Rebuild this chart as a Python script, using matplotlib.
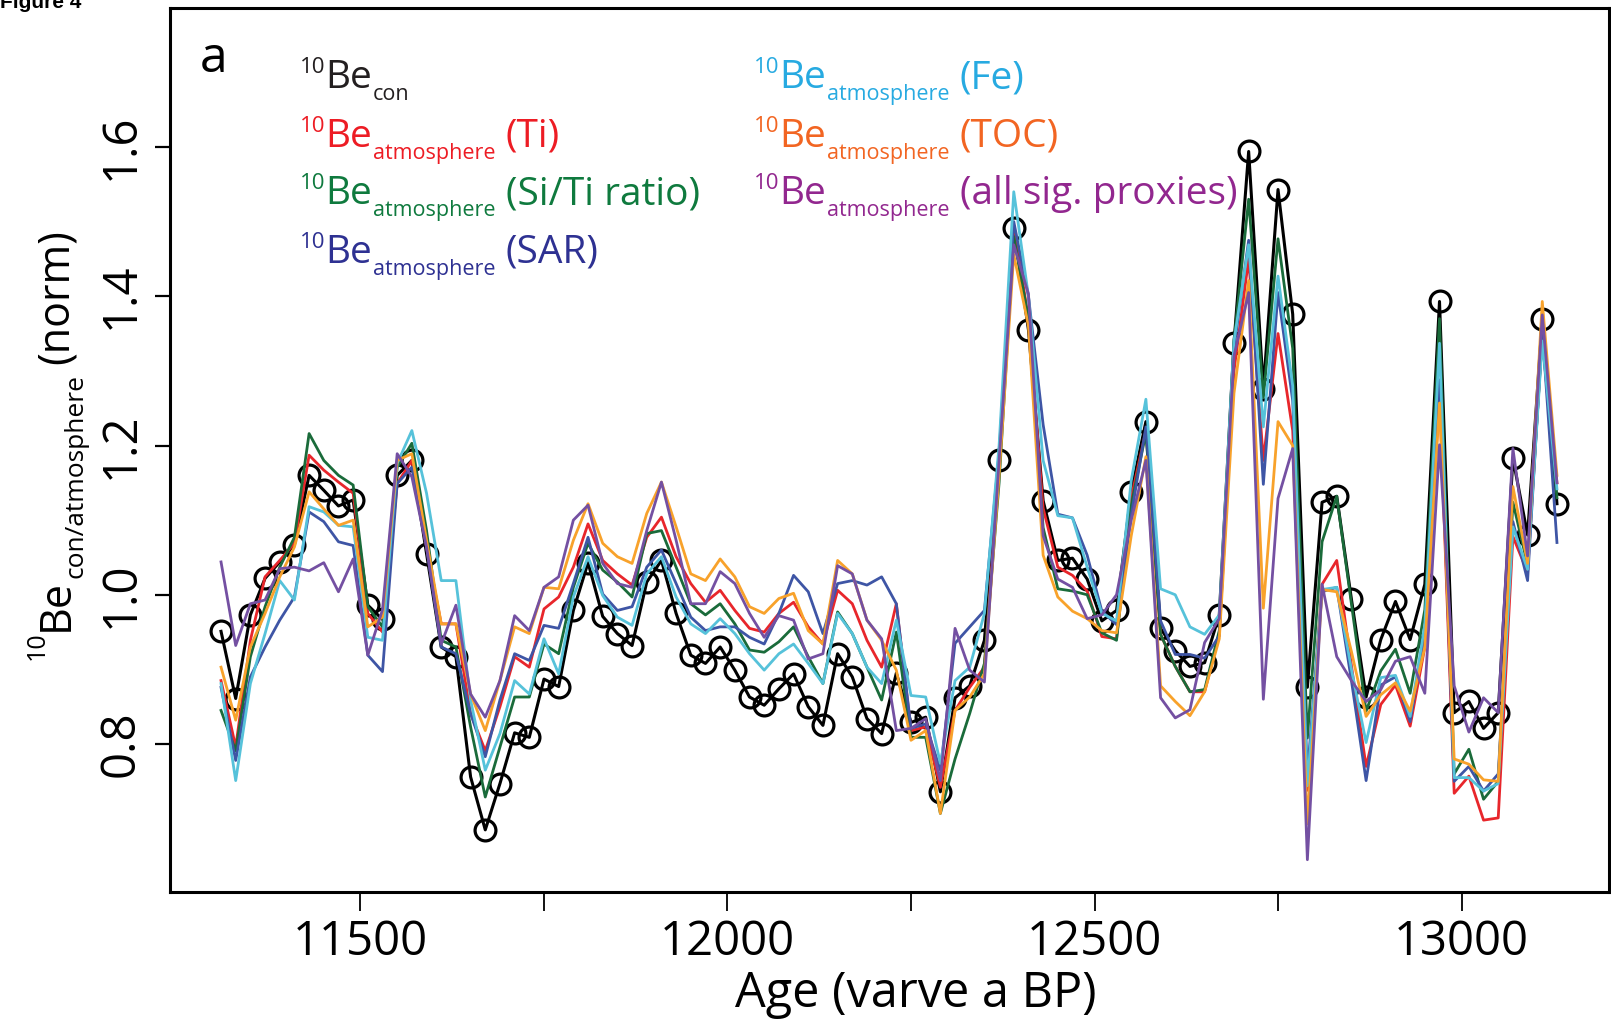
#!/usr/bin/env python3
"""10Be con / atmosphere comparison (Figure 4a)."""

import numpy as np
import matplotlib
matplotlib.use("Agg")
import matplotlib.pyplot as plt

# varve ages, 20-yr sampling
age = np.arange(11310, 13131, 20)

be_con = [0.951, 0.861, 0.973, 1.022, 1.044, 1.067, 1.160, 1.140, 1.119, 1.127,
          0.986, 0.967, 1.160, 1.180, 1.055, 0.930, 0.917, 0.756, 0.685, 0.747,
          0.815, 0.809, 0.887, 0.877, 0.979, 1.043, 0.971, 0.948, 0.932, 1.017,
          1.046, 0.975, 0.919, 0.908, 0.930, 0.899, 0.863, 0.852, 0.874, 0.894,
          0.850, 0.825, 0.921, 0.890, 0.834, 0.814, 0.895, 0.829, 0.836, 0.736,
          0.862, 0.878, 0.939, 1.181, 1.492, 1.355, 1.126, 1.046, 1.049, 1.021,
          0.965, 0.979, 1.138, 1.232, 0.955, 0.925, 0.904, 0.909, 0.973, 1.337,
          1.594, 1.276, 1.543, 1.376, 0.876, 1.124, 1.132, 0.994, 0.863, 0.940,
          0.991, 0.940, 1.014, 1.393, 0.842, 0.857, 0.821, 0.842, 1.183, 1.080,
          1.370, 1.122]

be_ti = [0.885, 0.796, 0.939, 1.024, 1.046, 1.069, 1.187, 1.167, 1.151, 1.136,
         0.975, 0.950, 1.149, 1.180, 1.064, 0.961, 0.961, 0.841, 0.791, 0.850,
         0.917, 0.903, 0.981, 0.997, 1.037, 1.095, 1.046, 1.028, 1.013, 1.077,
         1.104, 1.051, 1.015, 0.990, 1.006, 0.979, 0.955, 0.950, 0.975, 0.990,
         0.957, 0.934, 1.006, 0.988, 0.939, 0.903, 0.988, 0.818, 0.823, 0.742,
         0.845, 0.876, 0.903, 1.170, 1.495, 1.370, 1.116, 1.037, 1.026, 1.005,
         0.944, 0.941, 1.130, 1.220, 0.947, 0.904, 0.870, 0.870, 0.947, 1.300,
         1.450, 1.180, 1.350, 1.220, 0.738, 1.014, 1.046, 0.905, 0.770, 0.853,
         0.879, 0.824, 0.930, 1.270, 0.734, 0.757, 0.698, 0.701, 1.078, 1.030,
         1.350, 1.150]

be_siti = [0.845, 0.791, 0.917, 0.984, 1.037, 1.077, 1.216, 1.180, 1.160, 1.147,
           0.984, 0.957, 1.171, 1.203, 1.086, 0.939, 0.930, 0.823, 0.729, 0.796,
           0.863, 0.863, 0.934, 0.921, 1.010, 1.069, 1.033, 1.017, 0.997, 1.082,
           1.086, 1.037, 0.988, 0.973, 0.988, 0.961, 0.926, 0.923, 0.937, 0.957,
           0.917, 0.881, 0.977, 0.948, 0.903, 0.859, 0.950, 0.809, 0.809, 0.707,
           0.780, 0.841, 0.908, 1.150, 1.480, 1.370, 1.090, 1.008, 1.005, 1.000,
           0.949, 0.939, 1.120, 1.217, 0.947, 0.904, 0.870, 0.873, 0.952, 1.340,
           1.530, 1.264, 1.477, 1.330, 0.808, 1.071, 1.132, 0.988, 0.844, 0.898,
           0.927, 0.868, 0.980, 1.370, 0.760, 0.793, 0.726, 0.750, 1.124, 1.040,
           1.345, 1.130]

be_sar = [0.876, 0.778, 0.890, 0.930, 0.966, 0.997, 1.111, 1.098, 1.071, 1.066,
          0.919, 0.897, 1.149, 1.171, 1.064, 0.930, 0.921, 0.841, 0.783, 0.859,
          0.921, 0.912, 0.959, 0.955, 1.015, 1.077, 1.001, 0.979, 0.984, 1.037,
          1.060, 1.015, 0.970, 0.952, 0.957, 0.957, 0.943, 0.934, 0.975, 1.026,
          1.004, 0.948, 1.015, 1.019, 1.013, 1.024, 0.988, 0.821, 0.827, 0.765,
          0.935, 0.957, 0.979, 1.190, 1.500, 1.400, 1.228, 1.108, 1.103, 1.053,
          0.978, 0.960, 1.106, 1.225, 0.965, 0.920, 0.920, 0.915, 0.945, 1.330,
          1.475, 1.148, 1.405, 1.260, 0.760, 1.004, 1.010, 0.885, 0.751, 0.879,
          0.890, 0.830, 0.950, 1.288, 0.750, 0.770, 0.737, 0.760, 1.098, 1.019,
          1.355, 1.070]

be_fe = [0.881, 0.751, 0.881, 0.948, 1.019, 0.993, 1.118, 1.111, 1.093, 1.091,
         0.943, 0.939, 1.176, 1.220, 1.136, 1.019, 1.019, 0.859, 0.765, 0.814,
         0.885, 0.867, 0.941, 0.894, 0.997, 1.051, 0.999, 0.970, 0.959, 1.028,
         1.051, 0.997, 0.961, 0.948, 0.968, 0.948, 0.921, 0.899, 0.921, 0.934,
         0.908, 0.881, 0.975, 0.948, 0.903, 0.881, 0.966, 0.865, 0.863, 0.774,
         0.885, 0.903, 0.975, 1.200, 1.540, 1.400, 1.180, 1.106, 1.103, 1.037,
         0.975, 0.965, 1.153, 1.262, 1.008, 1.000, 0.957, 0.947, 0.973, 1.340,
         1.469, 1.225, 1.427, 1.280, 0.744, 1.007, 1.010, 0.900, 0.802, 0.889,
         0.892, 0.837, 0.960, 1.337, 0.755, 0.755, 0.737, 0.747, 1.091, 1.034,
         1.340, 1.142]

be_toc = [0.903, 0.832, 0.930, 0.975, 1.024, 1.064, 1.138, 1.115, 1.093, 1.100,
          0.957, 0.970, 1.180, 1.189, 1.073, 0.961, 0.961, 0.867, 0.818, 0.885,
          0.957, 0.948, 1.010, 1.008, 1.073, 1.122, 1.069, 1.051, 1.042, 1.109,
          1.151, 1.091, 1.028, 1.019, 1.048, 1.024, 0.984, 0.975, 0.995, 1.002,
          0.952, 0.934, 1.046, 1.028, 0.966, 0.939, 0.899, 0.805, 0.818, 0.707,
          0.845, 0.863, 0.894, 1.160, 1.456, 1.360, 1.053, 0.997, 0.978, 0.968,
          0.952, 0.949, 1.079, 1.185, 0.878, 0.857, 0.838, 0.870, 0.941, 1.270,
          1.421, 0.982, 1.232, 1.200, 0.693, 1.007, 1.004, 0.924, 0.837, 0.866,
          0.882, 0.844, 0.930, 1.257, 0.780, 0.773, 0.752, 0.750, 1.145, 1.042,
          1.393, 1.160]

be_all = [1.044, 0.932, 0.988, 0.993, 1.035, 1.037, 1.032, 1.043, 1.004, 1.048,
          0.919, 0.980, 1.189, 1.158, 1.064, 0.934, 0.986, 0.867, 0.836, 0.885,
          0.972, 0.952, 1.010, 1.024, 1.100, 1.120, 1.042, 1.015, 1.010, 1.086,
          1.151, 1.073, 0.988, 0.988, 1.031, 1.015, 0.975, 0.943, 0.972, 0.966,
          0.914, 0.921, 1.039, 1.028, 0.966, 0.941, 0.818, 0.821, 0.834, 0.751,
          0.955, 0.899, 0.883, 1.180, 1.469, 1.403, 1.079, 1.021, 1.010, 0.968,
          0.973, 1.000, 1.100, 1.180, 0.862, 0.835, 0.846, 0.936, 0.968, 1.320,
          1.405, 0.860, 1.129, 1.196, 0.645, 1.014, 0.917, 0.885, 0.857, 0.873,
          0.911, 0.917, 0.868, 1.201, 0.878, 0.816, 0.862, 0.842, 1.196, 1.052,
          1.375, 1.150]

xticks = [11500, 12000, 12500, 13000]
xticks_minor = [11750, 12250, 12750]
yticks = [0.8, 1.0, 1.2, 1.4, 1.6]

# (data, line colour, text colour, proxy, legend column, legend row)
series = [
    (be_ti, '#e8262b', '#ed1c24', '(Ti)', 0, 1),
    (be_siti, '#1a6b3a', '#0f7a3e', '(Si/Ti ratio)', 0, 2),
    (be_sar, '#3e55a5', '#2e3192', '(SAR)', 0, 3),
    (be_fe, '#56c2da', '#27aae1', '(Fe)', 1, 0),
    (be_toc, '#f8a22b', '#f26522', '(TOC)', 1, 1),
    (be_all, '#7450a2', '#92278f', '(all sig. proxies)', 1, 2),
]

W, H = 1611, 1022
plt.rcParams['font.family'] = ['Open Sans', 'DejaVu Sans']

fig = plt.figure(figsize=(W / 100, H / 100), dpi=100)
ax = fig.add_axes([0.1053, 0.1274, 0.8935, 0.8646])
renderer = fig.canvas.get_renderer()


def rich_text(x, y, parts, color, rot=0):
    """Chain text pieces (text, size, rise px, gap px) from a baseline point.
    x, y are pixels from the top-left corner."""
    px, py = x, H - y
    for s, size, rise, gap in parts:
        if rot == 0:
            px += gap
            tx, ty = px, py + rise
        else:
            py += gap
            tx, ty = px - rise, py
        t = fig.text(tx / W, ty / H, s, fontsize=size, color=color,
                     rotation=rot, rotation_mode='anchor',
                     ha='left', va='baseline')
        bb = t.get_window_extent(renderer)
        if rot == 0:
            px = bb.x1
        else:
            py = bb.y1


ax.plot(age, be_con, color='black', lw=2.2, marker='o', ms=15,
        mfc='none', mec='black', mew=2.3, zorder=2)
for vals, lc, tc, lab, col, row in series:
    ax.plot(age, vals, color=lc, lw=2.0, zorder=3)

ax.set_xlim(11240, 13201)
ax.set_ylim(0.602, 1.786)

ax.set_xticks(xticks)
ax.set_xticks(xticks_minor, minor=True)
ax.set_yticks(yticks)
ax.set_yticklabels([f'{v:.1f}' for v in yticks], rotation=90, va='center')
ax.tick_params(axis='x', which='both', length=14, width=1.3, labelsize=34, pad=5)
ax.tick_params(axis='y', length=11, width=1.6, labelsize=34, pad=7)
for s in ax.spines.values():
    s.set_linewidth(2.2)

# colour-coded legend written as text
col_x = [300, 754]
row_y = [88, 147, 204, 263]
rich_text(col_x[0], row_y[0],
          [('10', 16, 15, 0), ('Be', 28, 0, 0), ('con', 15.5, -12, 1)], '#231f20')
for vals, lc, tc, lab, col, row in series:
    rich_text(col_x[col], row_y[row],
              [('10', 16, 15, 0), ('Be', 28, 0, 0), ('atmosphere', 15.5, -12, 1),
               (lab, 28, 0, 10)], tc)

ax.text(0.0308, 0.928, 'a', fontsize=36, ha='center', va='baseline',
        transform=ax.transAxes)

fig.text(0.5686, 0.0274, 'Age (varve a BP)', fontsize=35, ha='center', va='center')
rich_text(68, 660, [('10', 18, 24, 0), ('Be', 31, 0, 0),
                    ('con/atmosphere', 19, -14, 1), ('(norm)', 31, 0, 10)],
          'black', rot=90)
fig.text(0.0, 0.992, 'Figure 4', fontsize=15, fontweight='bold',
         family='Liberation Sans', va='baseline')

fig.savefig('out.png', dpi=100)
